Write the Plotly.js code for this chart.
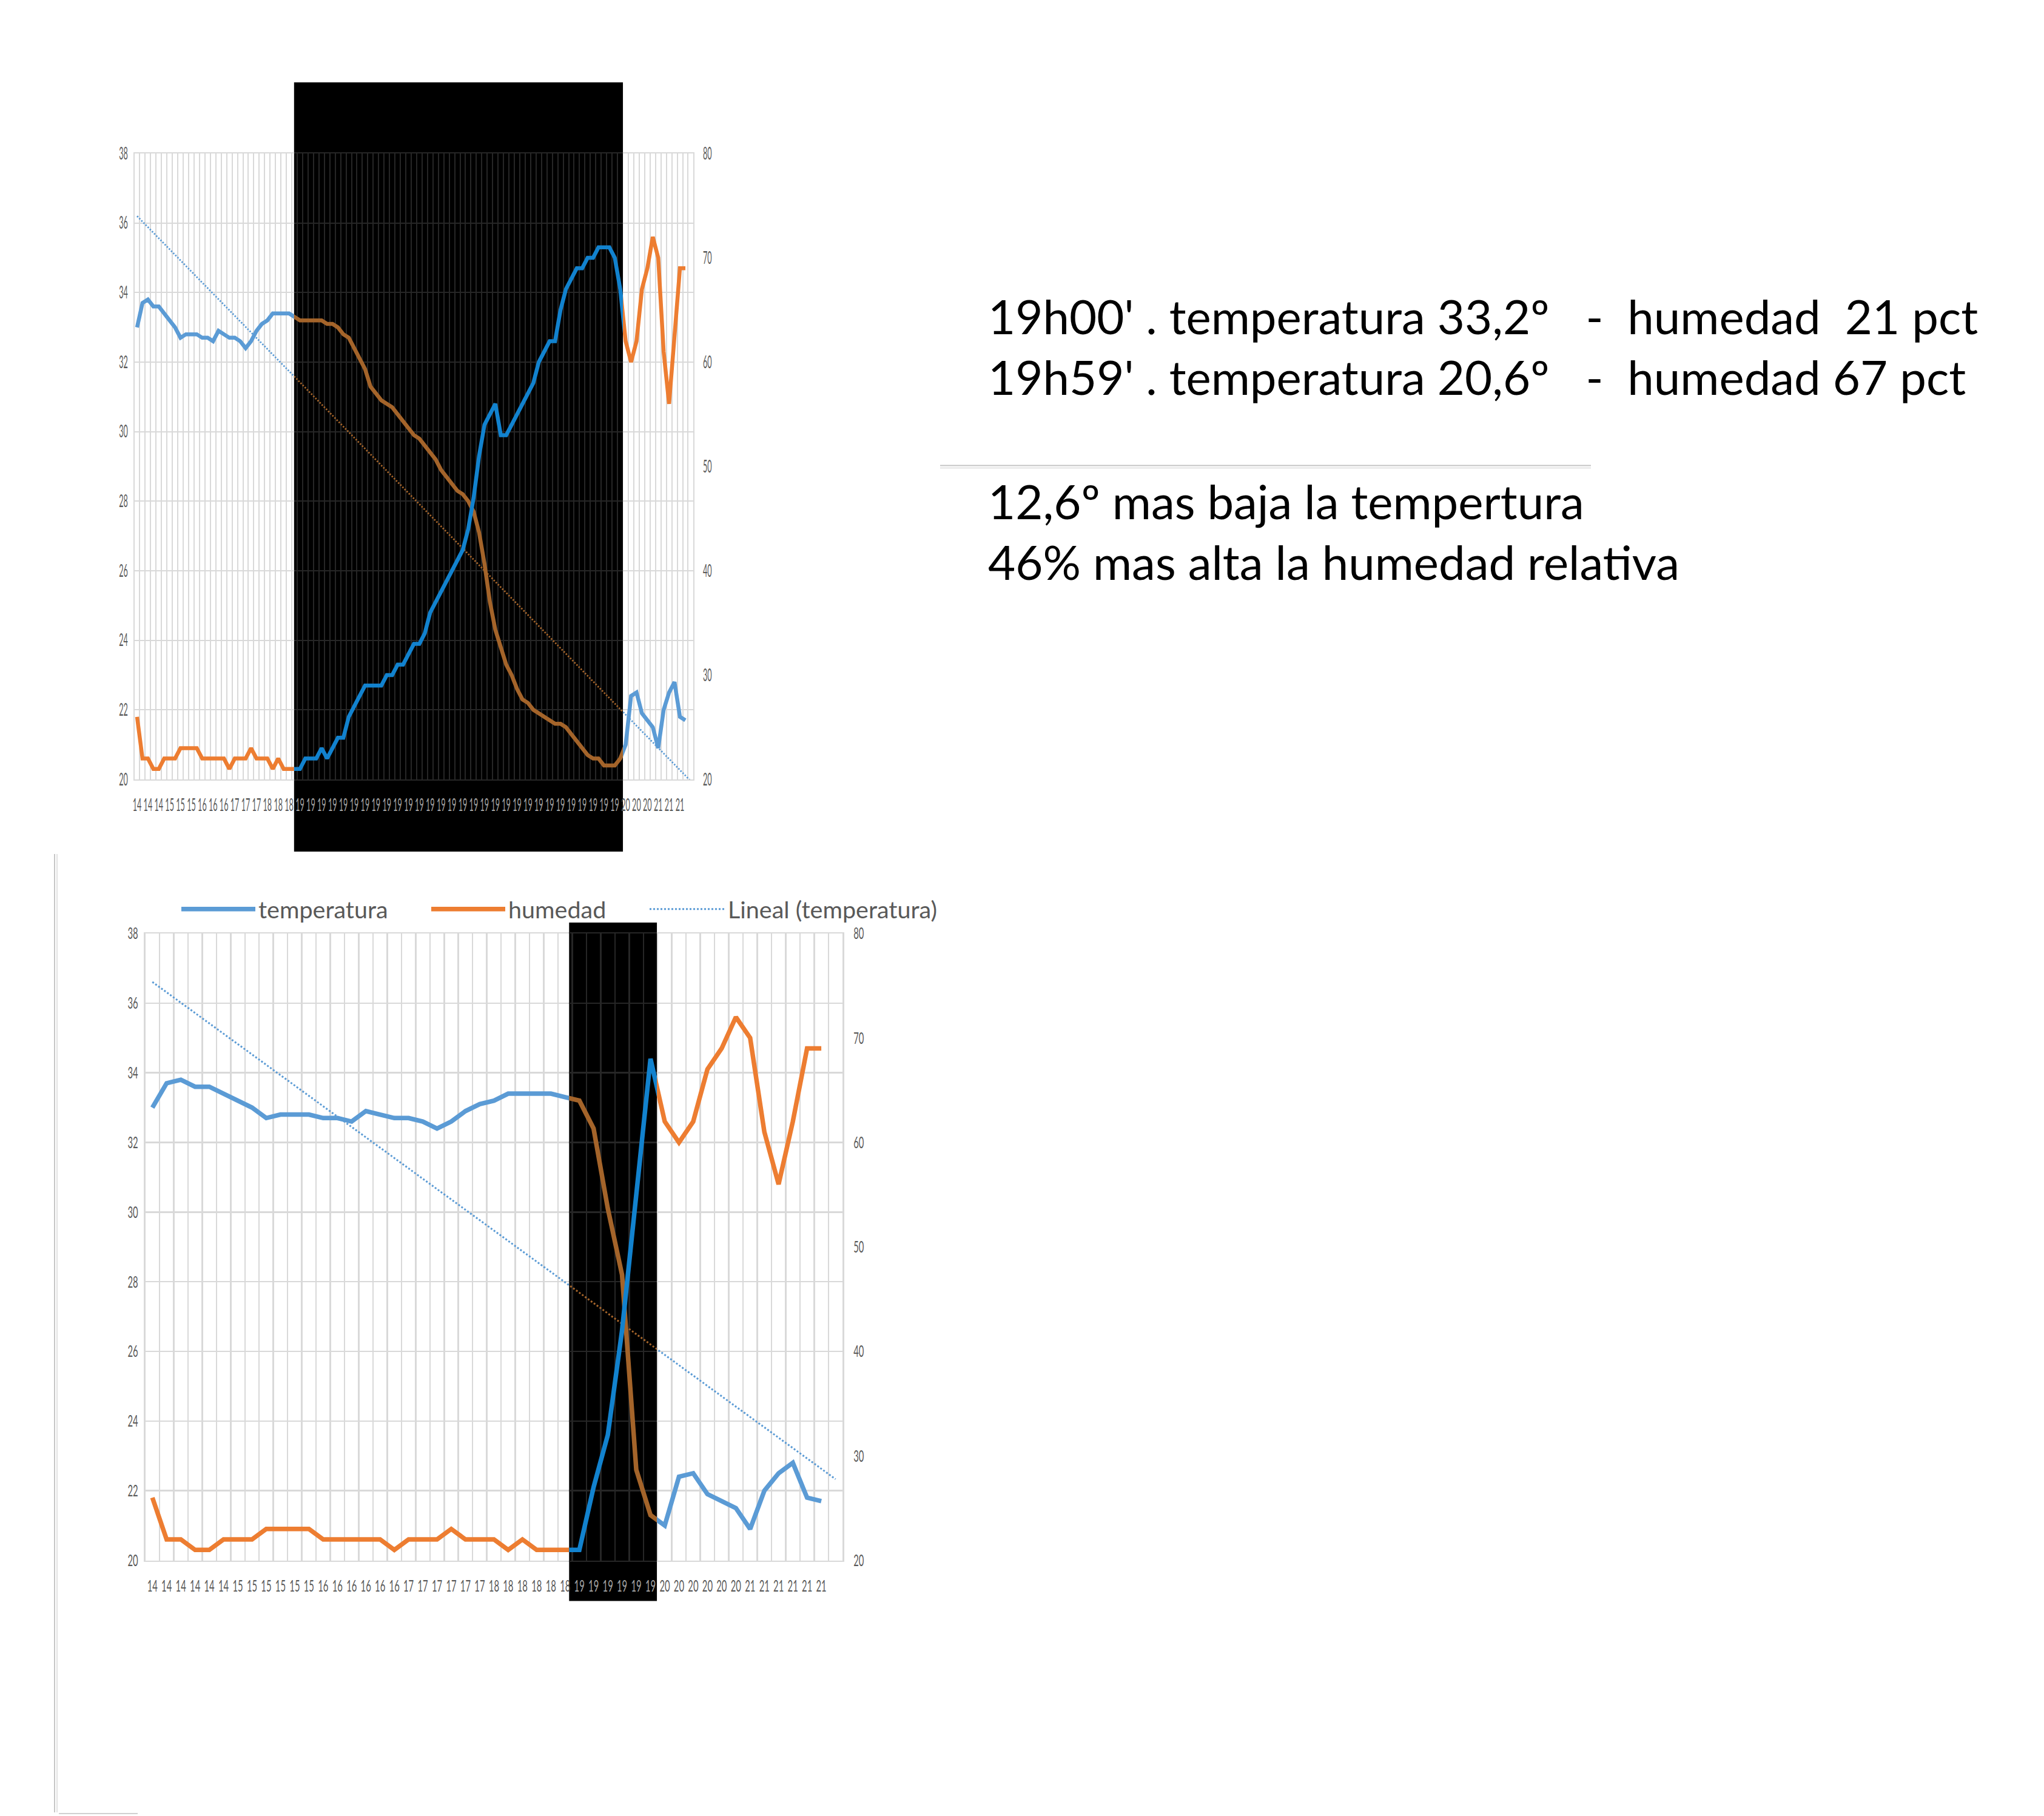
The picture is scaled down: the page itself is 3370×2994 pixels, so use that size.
<!DOCTYPE html>
<html>
<head>
<meta charset="utf-8">
<script src="https://cdn.plot.ly/plotly-3.0.1.min.js"></script>
<style>html,body{margin:0;padding:0;background:#fff;}#chart{width:3370px;height:2994px;}</style>
</head>
<body>
<div id="chart"></div>
<script>
// ---------------- DATA ----------------
const hours14_18 = ["14","14","14","14","14","14","15","15","15","15","15","15","16","16","16","16","16","16","17","17","17","17","17","17","18","18","18","18","18","18"];
const temp14_18 = [33.0,33.7,33.8,33.6,33.6,33.4,33.2,33.0,32.7,32.8,32.8,32.8,32.7,32.7,32.6,32.9,32.8,32.7,32.7,32.6,32.4,32.6,32.9,33.1,33.2,33.4,33.4,33.4,33.4,33.3];
const hum14_18 = [26,22,22,21,21,22,22,22,23,23,23,23,22,22,22,22,22,21,22,22,22,23,22,22,22,21,22,21,21,21];

// 19h, minute by minute (upper chart)
const hours19min = ["19","19","19","19","19","19","19","19","19","19","19","19","19","19","19","19","19","19","19","19","19","19","19","19","19","19","19","19","19","19","19","19","19","19","19","19","19","19","19","19","19","19","19","19","19","19","19","19","19","19","19","19","19","19","19","19","19","19","19","19"];
const temp19min = [33.2,33.2,33.2,33.2,33.2,33.1,33.1,33.0,32.8,32.7,32.4,32.1,31.8,31.3,31.1,30.9,30.8,30.7,30.5,30.3,30.1,29.9,29.8,29.6,29.4,29.2,28.9,28.7,28.5,28.3,28.2,28.0,27.7,27.1,26.2,25.1,24.3,23.8,23.3,23.0,22.6,22.3,22.2,22.0,21.9,21.8,21.7,21.6,21.6,21.5,21.3,21.1,20.9,20.7,20.6,20.6,20.4,20.4,20.4,20.6];
const hum19min = [21,22,22,22,23,22,23,24,24,26,27,28,29,29,29,29,30,30,31,31,32,33,33,34,36,37,38,39,40,41,42,44,47,51,54,55,56,53,53,54,55,56,57,58,60,61,62,62,65,67,68,69,69,70,70,71,71,71,70,67];

// 19h, every 10 minutes (lower chart)
const hours19_10 = ["19","19","19","19","19","19"];
const temp19_10 = [33.2,32.4,30.1,28.2,22.6,21.3];
const hum19_10 = [21,27,32,42,55,68];

const hours20_21 = ["20","20","20","20","20","20","21","21","21","21","21","21"];
const temp20_21 = [21.0,22.4,22.5,21.9,21.7,21.5,20.9,22.0,22.5,22.8,21.8,21.7];
const hum20_21 = [62,60,62,67,69,72,70,61,56,62,69,69];

const seriesNames = ["temperatura","humedad","Lineal (temperatura)"];
const noteLines = [
  "19h00' . temperatura 33,2º\u00a0\u00a0\u00a0-\u00a0\u00a0humedad\u00a0\u00a021 pct",
  "19h59' . temperatura 20,6º\u00a0\u00a0\u00a0-\u00a0\u00a0humedad 67 pct",
  "12,6º mas baja la tempertura",
  "46% mas alta la humedad relativa"
];

// ---------------- SERIES ----------------
const topHours = hours14_18.concat(hours19min, hours20_21);
const topTemp = temp14_18.concat(temp19min, temp20_21);
const topHum = hum14_18.concat(hum19min, hum20_21);
const botHours = hours14_18.concat(hours19_10, hours20_21);
const botTemp = temp14_18.concat(temp19_10, temp20_21);
const botHum = hum14_18.concat(hum19_10, hum20_21);

// ---------------- STYLE / GEOMETRY ----------------
const W = 3370, H = 2994;
const px = X => X / W;
const py = Y => 1 - Y / H;
const BLUE = '#5B9BD5', ORANGE = '#ED7D31';
const BLUE_INV = '#A4642A', ORANGE_INV = '#1282CE';
const GRID = '#D9D9D9', GRID_INV = '#262626';
const TICK = '#595959', TICK_INV = '#A6A6A6';
const TICKFONT = 'Lato, "Open Sans", sans-serif';
const TEXTFONT = 'Lato, "Open Sans", sans-serif';
const TRANSP = 'rgba(0,0,0,0)';

const gTop = {L:221.5, R:1143.4, T:253, B:1285, nCats: topHours.length + 1, black:[28.92, 89.5], blackY:[135.7,1404],
  lw:6.5, trendW:2.8, trendDash:'2.5px,2.5px', gridW:2, xFont:28, yFont:28, xTickLen:16, yTickLen:3, rTickLen:8,
  squeeze:0.45, ids:{xA:'x', xB:'x2', xC:'x3', yL:'y', yR:'y2', yLB:'y3', yRB:'y4'}, labelEvery:2};
const gBot = {L:239.5, R:1389.3, T:1539, B:2572.5, nCats: botHours.length + 1, black:[29.28, 35.45], blackY:[1521,2639.5],
  lw:7.5, trendW:3, trendDash:'dot', gridW:2.5, xFont:27, yFont:27, xTickLen:17, yTickLen:4, rTickLen:10,
  squeeze:0.55, ids:{xA:'x4', xB:'x5', xC:'x6', yL:'y5', yR:'y6', yLB:'y7', yRB:'y8'}, labelEvery:1};

const axKey = id => id[0] + 'axis' + id.slice(1);

function linreg(vals) {
  const n = vals.length; let sx = 0, sy = 0, sxx = 0, sxy = 0;
  vals.forEach((v, i) => { sx += i; sy += v; sxx += i * i; sxy += i * v; });
  const b = (n * sxy - sx * sy) / (n * sxx - sx * sx);
  const a = (sy - b * sx) / n;
  return {a, b};
}

const traces = [];
const layout = {
  width: W, height: H, margin: {l:0, r:0, t:0, b:0, pad:0},
  paper_bgcolor: '#ffffff', plot_bgcolor: TRANSP,
  hovermode: false, showlegend: true,
  shapes: [], annotations: []
};

function buildChart(g, hours, temp, hum, withLegend) {
  const ids = g.ids;
  const pitch = (g.R - g.L) / g.nCats;
  const X = i => g.L + (i + 0.5) * pitch;
  const xb0 = X(g.black[0]), xb1 = X(g.black[1]);
  const yDom = [py(g.B), py(g.T)];
  const idx = hours.map((h, i) => i);
  const tickIdx = idx.filter(i => i % g.labelEvery === 0);
  const tickText = tickIdx.map(i => hours[i]);

  // black (inverted) band
  layout.shapes.push({type:'rect', xref:'paper', yref:'paper', layer:'below',
    x0: px(xb0), x1: px(xb1), y0: py(g.blackY[1]), y1: py(g.blackY[0]),
    fillcolor:'#000000', line:{width:0}});

  const baseX = {tickmode:'array', tickvals: tickIdx, ticktext: tickText, tickangle: 0,
    showgrid:false, zeroline:false, showline:true, mirror:true, linewidth:g.gridW,
    ticks:'outside', ticklen:g.xTickLen, tickwidth:1, tickcolor:TRANSP, fixedrange:true};
  const minor = c => ({tickmode:'linear', tick0:0.5, dtick:1, showgrid:true, gridcolor:c, gridwidth:g.gridW, ticks:''});

  layout[axKey(ids.xA)] = Object.assign({}, baseX, {domain:[px(g.L), px(xb0)], range:[-0.5, g.black[0]],
    anchor: ids.yL, linecolor: GRID, tickfont:{family:TICKFONT, size:g.xFont, color:TICK}, minor: minor(GRID)});
  layout[axKey(ids.xB)] = Object.assign({}, baseX, {domain:[px(xb0), px(xb1)], range:[g.black[0], g.black[1]],
    anchor: ids.yLB, linecolor: GRID_INV, tickfont:{family:TICKFONT, size:g.xFont, color:TICK_INV}, minor: minor(GRID_INV)});
  layout[axKey(ids.xC)] = Object.assign({}, baseX, {domain:[px(xb1), px(g.R)], range:[g.black[1], g.nCats - 0.5],
    anchor: ids.yL, linecolor: GRID, tickfont:{family:TICKFONT, size:g.xFont, color:TICK}, minor: minor(GRID)});

  const yFont = {family:TICKFONT, size:g.yFont, color:TICK};
  layout[axKey(ids.yL)] = {domain:yDom, range:[20,38], tickmode:'linear', tick0:20, dtick:2,
    showgrid:true, gridcolor:GRID, gridwidth:g.gridW, zeroline:false, showline:true, linecolor:GRID, linewidth:g.gridW,
    anchor: ids.xA, side:'left', ticks:'outside', ticklen:g.yTickLen, tickcolor:TRANSP, tickfont:yFont, fixedrange:true};
  layout[axKey(ids.yR)] = {overlaying: ids.yL, range:[20,80], tickmode:'linear', tick0:20, dtick:10,
    showgrid:false, zeroline:false, showline:true, linecolor:GRID, linewidth:g.gridW,
    anchor: ids.xC, side:'right', ticks:'outside', ticklen:g.rTickLen, tickcolor:TRANSP, tickfont:yFont, fixedrange:true};
  layout[axKey(ids.yLB)] = {domain:yDom, range:[20,38], tickmode:'linear', tick0:20, dtick:2,
    showgrid:true, gridcolor:GRID_INV, gridwidth:g.gridW, zeroline:false, showticklabels:false, anchor: ids.xB, fixedrange:true};
  layout[axKey(ids.yRB)] = {overlaying: ids.yLB, range:[20,80], showgrid:false, zeroline:false,
    showticklabels:false, anchor: ids.xB, side:'right', fixedrange:true};

  const reg = linreg(temp);
  const xt = [0, g.nCats - 1];
  const yt = xt.map(x => reg.a + reg.b * x);

  const parts = [
    {x: ids.xA, yL: ids.yL, yR: ids.yR, inv:false},
    {x: ids.xB, yL: ids.yLB, yR: ids.yRB, inv:true},
    {x: ids.xC, yL: ids.yL, yR: ids.yR, inv:false}
  ];
  parts.forEach((p, k) => {
    const show = withLegend && k === 0;
    traces.push({type:'scatter', mode:'lines', x: idx, y: temp, xaxis:p.x, yaxis:p.yL,
      name: seriesNames[0], legend:'legend', showlegend: show,
      line:{color: p.inv ? BLUE_INV : BLUE, width: g.lw}});
    traces.push({type:'scatter', mode:'lines', x: idx, y: hum, xaxis:p.x, yaxis:p.yR,
      name: seriesNames[1], legend:'legend2', showlegend: show,
      line:{color: p.inv ? ORANGE_INV : ORANGE, width: g.lw}});
    traces.push({type:'scatter', mode:'lines', x: xt, y: yt, xaxis:p.x, yaxis:p.yL,
      name: seriesNames[2], legend:'legend3', showlegend: show,
      line:{color: p.inv ? BLUE_INV : BLUE, width: g.trendW, dash: g.trendDash}});
  });
}

buildChart(gTop, topHours, topTemp, topHum, false);
buildChart(gBot, botHours, botTemp, botHum, true);

// legends (lower chart)
const legFont = {family: TEXTFONT, size: 39.5, color: '#595959'};
const legBase = {orientation:'h', xanchor:'left', yanchor:'middle', bgcolor:TRANSP, borderwidth:0, font: legFont, y: py(1499)};
layout.legend = Object.assign({}, legBase, {x: px(294), itemwidth: 122});
layout.legend2 = Object.assign({}, legBase, {x: px(706), itemwidth: 122});
layout.legend3 = Object.assign({}, legBase, {x: px(1066), itemwidth: 124});

// notes on the right
const noteY = [521, 621, 826, 926];
noteLines.forEach((t, k) => {
  layout.annotations.push({text: t, xref:'paper', yref:'paper', x: px(1627), y: py(noteY[k]),
    xanchor:'left', yanchor:'middle', showarrow:false, font:{family: TEXTFONT, size: 78, color:'#000000'}});
});

// separator and frame lines
const lines = [
  [1550, 767.5, 2623, 767.5, '#C4C4C4'],
  [1550, 771.5, 2623, 771.5, '#E4E4E4'],
  [90, 1408, 90, 2988, '#C6C6C6'],
  [94, 1408, 94, 2988, '#E2E2E2'],
  [97, 2990, 227, 2990, '#D0D0D0']
];
lines.forEach(l => layout.shapes.push({type:'line', xref:'paper', yref:'paper', layer:'above',
  x0: px(l[0]), y0: py(l[1]), x1: px(l[2]), y1: py(l[3]), line:{color: l[4], width: 2}}));

// axis labels of the original are horizontally condensed: narrow them in place
function condenseTickLabels(gd) {
  const split = (gBot.T + gTop.B) / 2;
  Array.from(gd.querySelectorAll('g > text'))
    .filter(t => /^[xy]\d*tick$/.test((t.parentNode.getAttribute('class') || '').trim()))
    .forEach(t => {
      const r = t.getBoundingClientRect();
      const s = ((r.top + r.bottom) / 2 < split) ? gTop.squeeze : gBot.squeeze;
      const x = parseFloat(t.getAttribute('x')) || 0;
      const tr = t.getAttribute('transform') || '';
      t.setAttribute('transform', tr + ' translate(' + x + ',0) scale(' + s + ',1) translate(' + (-x) + ',0)');
    });
}

Plotly.newPlot('chart', traces, layout, {staticPlot:true, displayModeBar:false}).then(condenseTickLabels);
</script>
</body>
</html>
